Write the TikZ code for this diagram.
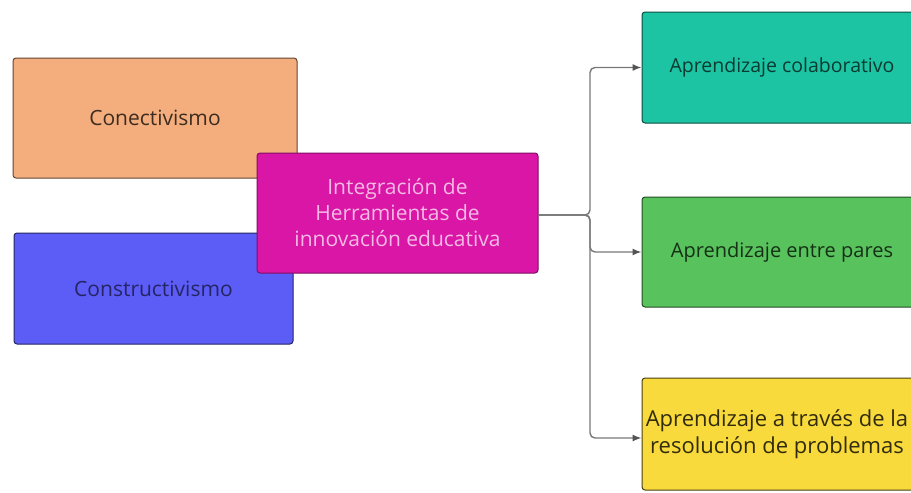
\documentclass[tikz,border=0pt]{standalone}
\usepackage{fontspec}
\setmainfont{Open Sans}
\usepackage{tikz}
\usetikzlibrary{arrows.meta}
\usepackage{xcolor}

\definecolor{naranja}{HTML}{F4AE7E}
\definecolor{azul}{HTML}{5C5CF7}
\definecolor{magenta}{HTML}{D916A6}
\definecolor{turquesa}{HTML}{1DC4A4}
\definecolor{verde}{HTML}{58C25C}
\definecolor{amarillo}{HTML}{F8DA3C}
\definecolor{linea}{HTML}{787878}

\tikzset{
  caja/.style={draw, line width=1pt, rounded corners=3pt, align=center,
    font=\fontsize{21}{26}\selectfont, inner sep=0pt},
  conector/.style={draw=linea, line width=1.4pt, rounded corners=5pt,
    -{Latex[length=9pt,width=7pt,color=linea!70!black]}},
}

\begin{document}
\begin{tikzpicture}[x=1pt,y=-1pt]
\clip (0,0) rectangle (911,493);
\fill[white] (0,0) rectangle (911,493);

\node[caja, fill=naranja, draw=naranja!40!black, text=naranja!25!black,
  minimum width=284pt, minimum height=120pt] (conect) at (155,118) {Conectivismo};
\node[caja, fill=azul, draw=azul!40!black, text=azul!40!black,
  minimum width=279pt, minimum height=111pt] (constr) at (153.5,288.5) {Constructivismo};
\node[caja, fill=magenta, draw=magenta!60!black, text=magenta!30!white,
  minimum width=281pt, minimum height=120pt] (centro) at (397.5,213)
  {Integración de\\Herramientas de\\innovación educativa};

\node[caja, fill=turquesa, draw=turquesa!40!black, text=turquesa!30!black,
  font=\fontsize{19.5}{25}\selectfont,
  minimum width=280pt, minimum height=111pt] (colab) at (782,67.5) {Aprendizaje colaborativo};
\node[caja, fill=verde, draw=verde!40!black, text=verde!25!black,
  font=\fontsize{20}{25}\selectfont,
  minimum width=280pt, minimum height=110pt] (pares) at (782,252) {Aprendizaje entre pares};
\node[caja, fill=amarillo, draw=amarillo!30!black, text=amarillo!20!black,
  font=\fontsize{22}{27}\selectfont,
  minimum width=280pt, minimum height=112pt] (resol) at (782,434)
  {\hspace*{-10pt}Aprendizaje a través de la\\\hspace*{-10pt}resolución de problemas};

\coordinate (tronco) at (590,215);
\draw[conector] (centro.east|-tronco) -- (tronco) |- (colab.west);
\draw[conector] (centro.east|-tronco) -- (tronco) |- (pares.west);
\draw[conector] (centro.east|-tronco) -- (tronco) |- ([yshift=-4pt]resol.west);
\end{tikzpicture}
\end{document}
